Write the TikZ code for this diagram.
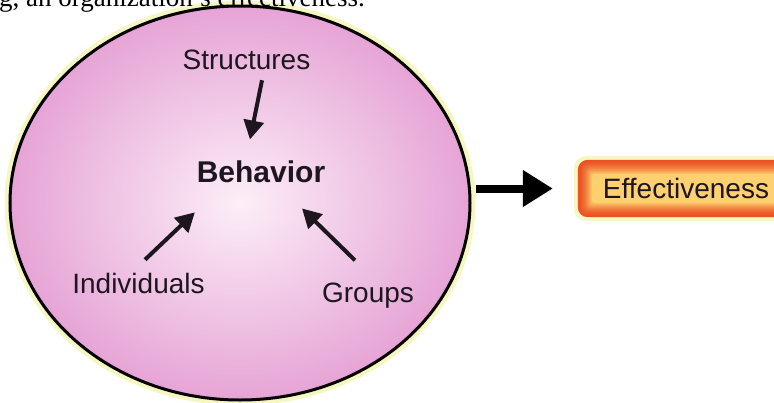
\documentclass[tikz,border=0pt]{standalone}
\usepackage{fontspec}
\setmainfont{Liberation Serif}
\newfontfamily\labelfont{Liberation Sans}
\usetikzlibrary{shapes.geometric,arrows.meta,backgrounds,calc}

\definecolor{orgedge}{RGB}{230,164,214}
\definecolor{orgcore}{RGB}{252,238,247}
\definecolor{halo}{RGB}{240,240,150}
\definecolor{ink}{RGB}{30,22,30}
\definecolor{effouter}{RGB}{234,82,34}
\definecolor{effinner}{RGB}{255,208,112}

\begin{document}
\begin{tikzpicture}[x=1pt,y=-1pt,
  lbl/.style={font=\labelfont\fontsize{28}{32}\selectfont, text=ink, inner sep=0pt},
  inarrow/.style={-{Triangle[length=19pt,width=20pt]}, line width=4pt, draw=ink},
  bigarrow/.style={-{Triangle[length=30pt,width=35pt]}, line width=8pt, draw=black},
]
\useasboundingbox (0,0) rectangle (774,402);

% last line of the running paragraph, cut by the top edge
\node[anchor=base west, font=\fontsize{27}{30}\selectfont, inner sep=0pt] (caption)
  at (-1,6) {g, an organization’s effectiveness.};

% the organisation
\node[ellipse, draw=black, line width=3pt, inner color=orgcore, outer color=orgedge,
  minimum width=460pt, minimum height=394pt] (org) at (240,203) {};

% factors and the behaviour they shape
\node[lbl, anchor=base] (structures) at (246.5,69) {Structures};
\node[lbl, anchor=base, font=\labelfont\bfseries\fontsize{30}{34}\selectfont] (behavior) at (261,182) {Behavior};
\node[lbl, anchor=base] (individuals) at (138.5,293) {Individuals};
\node[lbl, anchor=base] (groups) at (368,302) {Groups};

\draw[inarrow, shorten <=11pt, shorten >=21pt]
  ([xshift=17.7pt]structures.south) -- ([xshift=-15.2pt]behavior.north);
\draw[inarrow, shorten <=18.7pt, shorten >=43.3pt]
  ([xshift=-7pt]individuals.north) -- ([xshift=-34.75pt]behavior.south);
\draw[inarrow, shorten <=31.4pt, shorten >=37.1pt]
  ([xshift=9.4pt]groups.north) -- ([xshift=14.5pt]behavior.south);

% outcome box
\node[lbl, minimum width=216pt, minimum height=57pt] (eff) at (686,188.5) {Effectiveness};

\draw[bigarrow, shorten <=4pt, shorten >=25pt] (org.east |- eff.west) -- (eff.west);

\begin{pgfonlayer}{background}
  % soft yellow rim around the ellipse
  \draw[halo, line width=7pt, opacity=0.6] (org.center) ellipse [x radius=232, y radius=199];
  % glowing box: yellow halo, then orange edge fading to a warm yellow centre
  \fill[halo, opacity=0.55, rounded corners=13pt]
    ($(eff.north west)+(-4,-4)$) rectangle ($(eff.south east)+(4,4)$);
  \foreach \i in {0,...,16} {
    \pgfmathtruncatemacro\p{100*(\i/16)^1.6}
    \pgfmathsetmacro\r{max(10-0.6*\i,3)}
    \fill[effinner!\p!effouter, rounded corners=\r pt]
      ($(eff.north west)+(0.9*\i,0.9*\i)$) rectangle ($(eff.south east)+(-0.9*\i,-0.9*\i)$);
  }
\end{pgfonlayer}
\end{tikzpicture}
\end{document}
